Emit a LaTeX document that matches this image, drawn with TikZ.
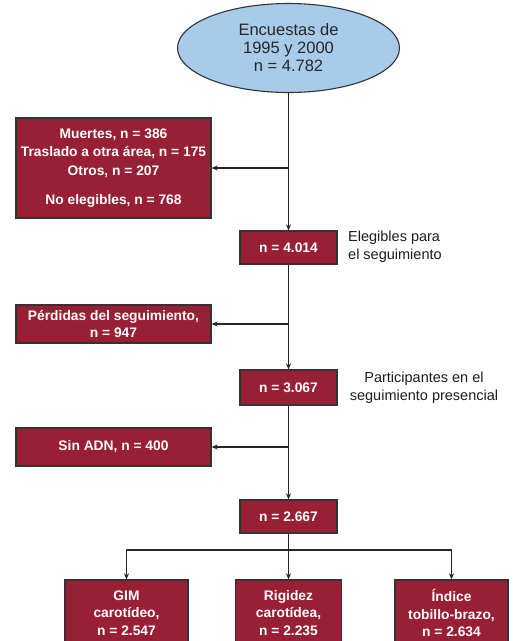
\documentclass[tikz,border=0pt]{standalone}
\usepackage{fontspec}
\setmainfont{Liberation Sans}
\usetikzlibrary{arrows.meta,shapes.geometric}
\definecolor{boxred}{HTML}{991F35}
\definecolor{ellblue}{HTML}{A8CBEA}
\definecolor{edgegray}{HTML}{333333}
\definecolor{sidetext}{HTML}{1E1E1E}
\begin{document}
\begin{tikzpicture}[x=1pt,y=-1pt,
  redbox/.style={draw=edgegray, line width=1.3pt, fill=boxred, text=white,
    font=\fontsize{13.8}{17.5}\selectfont\bfseries, align=center, inner sep=0pt},
  ell/.style={ellipse, draw=edgegray, line width=1.1pt, fill=ellblue, inner sep=0pt,
    minimum width=222pt, minimum height=89pt, align=center,
    font=\fontsize{16.5}{18}\selectfont, text=black!85},
  side/.style={font=\fontsize{14.5}{18}\selectfont, text=sidetext, inner sep=0pt},
  arr/.style={-{Stealth[length=6pt,width=5pt]}, line width=1.1pt, draw=black!85},
  lin/.style={line width=1.1pt, draw=black!85}]
\path[use as bounding box, fill=white] (0,0) rectangle (513,641);
\begin{scope}
\clip (0,0) rectangle (513,641);
\node[ell] (e) at (288.5,48) {\raisebox{-2pt}{Encuestas de}\\\raisebox{-2pt}{1995 y 2000}\\\raisebox{-2pt}{n = 4.782}};
\node[redbox, minimum width=195pt, minimum height=100pt, font=\fontsize{13.8}{18.5}\selectfont\bfseries] (b1) at (113.5,168)
  {Muertes, n = 386\\Traslado a otra área, n = 175\\Otros, n = 207\\[11pt]No elegibles, n = 768};
\node[redbox, minimum width=97pt, minimum height=33pt] (n1) at (288.5,247.5) {n = 4.014};
\node[side, anchor=west, align=left] (l1) at (348,247) {Elegibles para\\el seguimiento};
\node[redbox, minimum width=195pt, minimum height=38pt] (b2) at (113.5,324)
  {Pérdidas del seguimiento,\\n = 947};
\node[redbox, minimum width=97pt, minimum height=35pt] (n2) at (288.5,387.5) {n = 3.067};
\node[side, align=center] (l2) at (424,388) {Participantes en el\\seguimiento presencial};
\node[redbox, minimum width=195pt, minimum height=38pt] (b3) at (113.5,447) {Sin ADN, n = 400};
\node[redbox, minimum width=97pt, minimum height=33pt] (n3) at (288.5,516.5) {n = 2.667};
\node[redbox, minimum width=123pt, minimum height=66pt] (g1) at (126.5,613)
  {GIM\\carotídeo,\\n = 2.547};
\node[redbox, minimum width=106pt, minimum height=66pt] (g2) at (288.5,613)
  {Rigidez\\carotídea,\\n = 2.235};
\node[redbox, minimum width=113pt, minimum height=66pt] (g3) at (451.5,613)
  {Índice\\tobillo-brazo,\\n = 2.634};
\coordinate (j1) at (288.5,168);
\coordinate (j2) at (288.5,324);
\coordinate (j3) at (288.5,447);
\coordinate (jb) at (288.5,550);
\draw[arr] (e.south) -- (n1.north);
\draw[arr] (j1) -- (b1.east);
\draw[arr] (n1.south) -- (n2.north);
\draw[arr] (j2) -- (b2.east);
\draw[arr] (n2.south) -- (n3.north);
\draw[arr] (j3) -- (b3.east);
\draw[lin] (n3.south) -- (jb);
\draw[arr] (jb) -| (g1.north);
\draw[arr] (jb) -- (g2.north);
\draw[arr] (jb) -| (g3.north);
\end{scope}
\end{tikzpicture}
\end{document}
